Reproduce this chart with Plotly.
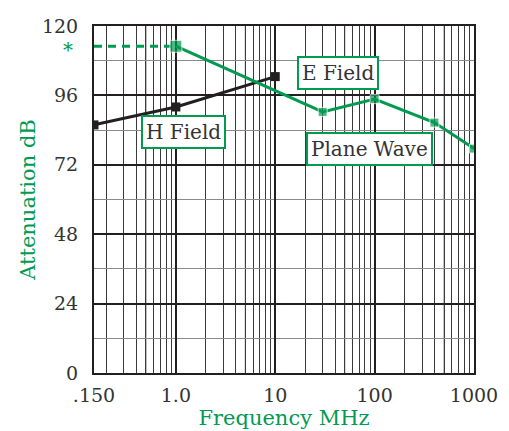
import math
import plotly.graph_objects as go

# ---- data ----
X_TICK_VALS = [0.15, 1, 10, 100, 1000]
X_TICK_TEXT = [".150", "1.0", "10", "100", "1000"]
Y_TICK_VALS = [0, 24, 48, 72, 96, 120]

PLANE_FREQ = [1, 30, 100, 400, 1000]
PLANE_DB = [113, 90.3, 94.7, 86.6, 77.6]

H_FREQ = [0.15, 1, 10]
H_DB = [85.8, 92.0, 102.5]

DASH_FREQ = [0.15, 1]
DASH_DB = [113, 113]

MINOR_X = [m * d for d in (0.1, 1, 10, 100) for m in range(2, 10)]
FIVE_X = [0.5, 5, 50, 500]

LABELS = [("E Field", 43, 103.8), ("Plane Wave", 88, 77.3), ("H Field", 1.2, 83.4)]

GREEN = "rgb(0,154,80)"
DARK = "#231f20"
TEXT = "#333333"
FONT = "DejaVu Serif"

fig = go.Figure()

fig.add_trace(go.Scatter(x=DASH_FREQ, y=DASH_DB, mode="lines",
                         line=dict(color=GREEN, width=3, dash="8px,6px"), hoverinfo="skip"))
fig.add_trace(go.Scatter(x=H_FREQ, y=H_DB, mode="lines+markers",
                         line=dict(color=DARK, width=3),
                         marker=dict(symbol="square", size=9, color=DARK)))
fig.add_trace(go.Scatter(x=PLANE_FREQ, y=PLANE_DB, mode="lines+markers",
                         line=dict(color=GREEN, width=3),
                         marker=dict(symbol="square", size=[12, 9, 9, 9, 9], color=GREEN)))

# lighter gridlines at the 5s
for v in FIVE_X:
    fig.add_shape(type="line", xref="x", yref="paper", x0=v, x1=v, y0=0, y1=1,
                  line=dict(color="#8a8a8a", width=1.2), layer="between")

for text, fx, fy in LABELS:
    fig.add_annotation(x=math.log10(fx), y=fy, text=text, showarrow=False,
                       font=dict(family=FONT, size=20, color=TEXT),
                       bgcolor="white", bordercolor=GREEN, borderwidth=2, borderpad=3)

fig.add_annotation(x=math.log10(DASH_FREQ[0]), y=DASH_DB[0], text="*", showarrow=False,
                   xshift=-26, yshift=-4, font=dict(family=FONT, size=20, color=GREEN))

# the page body adds an 8px offset, so the figure is 8px smaller than the window
fig.update_layout(
    width=501, height=423,
    margin=dict(l=86, r=35, t=18, b=58, autoexpand=False),
    plot_bgcolor="white", paper_bgcolor="white",
    showlegend=False,
    font=dict(family=FONT, color=TEXT),
)

fig.update_xaxes(
    type="log", range=[math.log10(0.15), 3], automargin=False,
    tickvals=X_TICK_VALS, ticktext=X_TICK_TEXT,
    tickfont=dict(family=FONT, size=19, color=TEXT),
    ticklabelstandoff=4,
    showgrid=True, gridcolor=DARK, gridwidth=2,
    minor=dict(tickvals=MINOR_X, showgrid=True, gridcolor="#3a3a3a", gridwidth=1),
    showline=True, mirror=True, linecolor=DARK, linewidth=2,
    zeroline=False,
    title=dict(text="Frequency MHz", font=dict(family=FONT, size=21, color=GREEN), standoff=4),
)
fig.update_yaxes(
    range=[0, 120], tickvals=Y_TICK_VALS, automargin=False,
    tickfont=dict(family=FONT, size=19, color=TEXT),
    ticklabelstandoff=10,
    showgrid=True, gridcolor=DARK, gridwidth=2,
    minor=dict(dtick=12, showgrid=True, gridcolor="#8a8a8a", gridwidth=1.2),
    showline=True, mirror=True, linecolor=DARK, linewidth=2,
    zeroline=False,
    title=dict(text="Attenuation dB", font=dict(family=FONT, size=21, color=GREEN), standoff=1),
)

fig.write_html("out.html")
